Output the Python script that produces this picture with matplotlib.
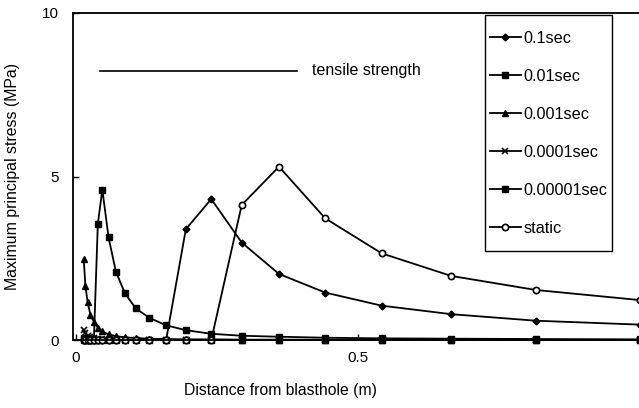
"""Maximum principal stress vs distance from blasthole."""

import matplotlib
matplotlib.use("Agg")
import matplotlib.pyplot as plt
from matplotlib.patches import Rectangle

plt.rcParams["font.family"] = ["Liberation Sans", "DejaVu Sans"]

# distances of the computed points (m)
distance = [0.014, 0.017, 0.021, 0.026, 0.032, 0.039, 0.047, 0.058, 0.071, 0.087,
            0.106, 0.13, 0.16, 0.195, 0.24, 0.294, 0.36, 0.442, 0.542, 0.665,
            0.815, 1.0]

stress_01 = [0, 0, 0, 0, 0, 0, 0, 0, 0, 0,
             0, 0, 0, 3.39, 4.31, 2.98, 2.02, 1.45, 1.05, 0.79,
             0.59, 0.47]
stress_001 = [0, 0, 0, 0, 0, 3.55, 4.6, 3.14, 2.09, 1.43,
              0.97, 0.68, 0.45, 0.3, 0.19, 0.13, 0.1, 0.07, 0.05, 0.04,
              0.03, 0.02]
stress_0001 = [2.47, 1.65, 1.15, 0.76, 0.56, 0.38, 0.26, 0.17, 0.12, 0.08,
               0.06, 0.04, 0.03, 0.02, 0.02, 0.01, 0.01, 0.01, 0.0, 0.0,
               0.0, 0.0]
stress_00001 = [0.3, 0.2, 0.12, 0.08, 0.05, 0.03, 0.02, 0.01, 0.01, 0.0,
                0, 0, 0, 0, 0, 0, 0, 0, 0, 0,
                0, 0]
stress_000001 = [0.05, 0.03, 0.02, 0.01, 0, 0, 0, 0, 0, 0,
                 0, 0, 0, 0, 0, 0, 0, 0, 0, 0,
                 0, 0]
stress_static = [0, 0, 0, 0, 0, 0, 0, 0, 0, 0,
                 0, 0, 0, 0, 0, 4.13, 5.3, 3.72, 2.65, 1.96,
                 1.53, 1.22]

labels = ["0.1sec", "0.01sec", "0.001sec", "0.0001sec", "0.00001sec", "static"]

tensile_x = [0.043, 0.392]
tensile_y = [8.23, 8.23]

fig = plt.figure(figsize=(6.39, 4.08), dpi=100)
ax = fig.add_axes([73 / 639, 68 / 408, 1 - 73 / 639, 327 / 408])

series = [stress_01, stress_001, stress_0001, stress_00001, stress_000001, stress_static]
styles = [
    dict(marker="D", ms=3.5, mfc="black"),
    dict(marker="s", ms=4.5, mfc="black"),
    dict(marker="^", ms=4.5, mfc="black"),
    dict(marker="x", ms=4, mew=1.2),
    dict(marker="s", ms=4.5, mfc="black"),
    dict(marker="o", ms=4.5, mfc="white", mew=1.2),
]
for values, label, st in zip(series, labels, styles):
    ax.plot(distance, values, color="black", lw=1.3, mec="black",
            label=label, clip_on=False, **st)

ax.plot(tensile_x, tensile_y, color="black", lw=1.2)
ax.text(0.418, 8.23, "tensile strength", fontsize=11.5, va="center", ha="left")

ax.set_xlim(-0.005, 0.998)
ax.set_ylim(0, 10)
ax.set_xticks([0, 0.5])
ax.set_xticklabels(["0", "0.5"])
ax.set_yticks([0, 5, 10])
ax.tick_params(direction="in", length=4, labelsize=11, width=1)
ax.tick_params(axis="x", pad=8)
ax.tick_params(axis="y", pad=10)
ax.spines["right"].set_visible(False)
for side in ("left", "top", "bottom"):
    ax.spines[side].set_linewidth(1.3)

ax.set_ylabel("Maximum principal stress (MPa)", fontsize=11.4)
ax.yaxis.set_label_coords((20 - 73) / 566, 0.5)
ax.set_xlabel("Distance from blasthole (m)", fontsize=11.3)
ax.xaxis.set_label_coords((280 - 73) / 566, -0.13)

# legend text without its own frame; the box is drawn as a separate rectangle
ax.legend(loc="center left", bbox_to_anchor=((490 - 73) / 566, 0.632),
          borderaxespad=0, borderpad=0, frameon=False, fontsize=11.7,
          handlelength=1.9, labelspacing=1.42, handletextpad=0.15)
ax.add_patch(Rectangle((0.728, 0.272), 0.224, 0.722, transform=ax.transAxes,
                       fill=False, edgecolor="black", lw=1.0, clip_on=False))

fig.savefig("out.png", dpi=100)
